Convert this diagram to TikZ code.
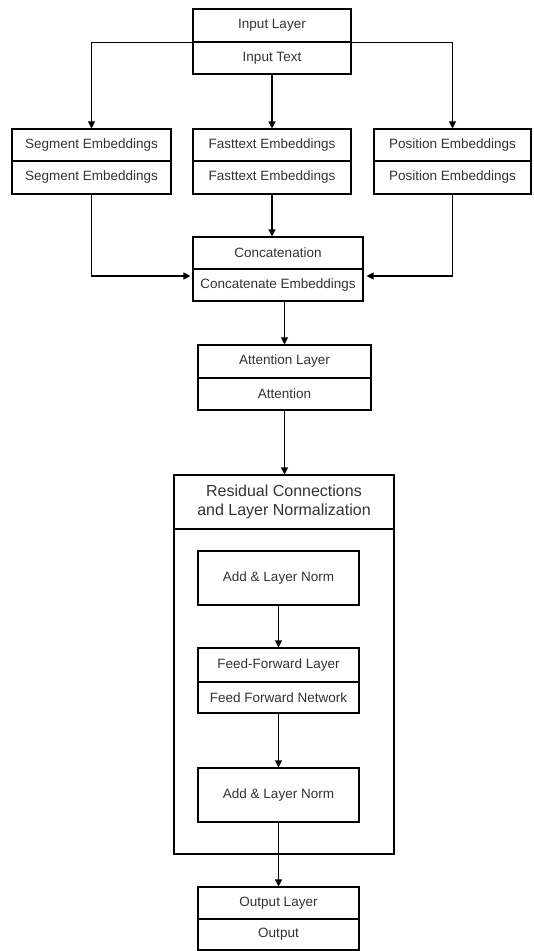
\documentclass[tikz,border=0pt]{standalone}
\usepackage{fontspec}
\setmainfont{Liberation Sans}
\usetikzlibrary{arrows.meta,calc}
\definecolor{txt}{HTML}{333333}
\begin{document}
\begin{tikzpicture}[x=1pt,y=-1pt,
 cell/.style={draw, line width=1.1pt, inner sep=0pt, font=\fontsize{13.5}{16}\selectfont, text=txt, fill=white},
 arr/.style={line width=1.1pt, -{Triangle[length=7pt,width=7pt]}}
]
\useasboundingbox (0,0) rectangle (534,951);
% input
\node[cell, minimum width=158pt, minimum height=33pt] (inT) at (272,25.5) {Input Layer};
\node[cell, minimum width=158pt, minimum height=32pt] (inB) at (272,58) {Input Text};
% embeddings
\node[cell, minimum width=159pt, minimum height=32pt] (segT) at (91.5,145) {Segment Embeddings};
\node[cell, minimum width=159pt, minimum height=33pt] (segB) at (91.5,177.5) {Segment Embeddings};
\node[cell, minimum width=158pt, minimum height=32pt] (fastT) at (272,145) {Fasttext Embeddings};
\node[cell, minimum width=158pt, minimum height=33pt] (fastB) at (272,177.5) {Fasttext Embeddings};
\node[cell, minimum width=157pt, minimum height=32pt] (posT) at (452.5,145) {Position Embeddings};
\node[cell, minimum width=157pt, minimum height=33pt] (posB) at (452.5,177.5) {Position Embeddings};
% concat
\node[cell, minimum width=170pt, minimum height=32pt] (catT) at (278,253) {Concatenation};
\node[cell, minimum width=170pt, minimum height=32pt] (catB) at (278,285) {Concatenate Embeddings};
% attention
\node[cell, minimum width=173pt, minimum height=33pt] (attT) at (284.5,361.5) {Attention Layer};
\node[cell, minimum width=173pt, minimum height=32pt] (attB) at (284.5,394) {Attention};
% residual container
\node[cell, minimum width=220pt, minimum height=379pt] (res) at (284,664.5) {};
\node[cell, minimum width=220pt, minimum height=54pt, align=center, font=\fontsize{16}{18.5}\selectfont] (resT) at (284,502) {Residual Connections\\and Layer Normalization};
\node[cell, minimum width=161pt, minimum height=54pt] (add1) at (278.5,578) {Add \& Layer Norm};
\node[cell, minimum width=161pt, minimum height=34pt] (ffT) at (278.5,665) {Feed-Forward Layer};
\node[cell, minimum width=161pt, minimum height=31pt] (ffB) at (278.5,697.5) {Feed Forward Network};
\node[cell, minimum width=161pt, minimum height=54pt] (add2) at (278.5,795) {Add \& Layer Norm};
% output
\node[cell, minimum width=161pt, minimum height=32pt] (outT) at (278.5,903) {Output Layer};
\node[cell, minimum width=161pt, minimum height=31pt] (outB) at (278.5,934.5) {Output};
% connectors
\draw[arr] (inT.south) -| (segT.north);
\draw[arr] (inT.south) -| (posT.north);
\draw[arr] (inB.south) -- (fastT.north);
\draw[arr] (fastB.south) -- (fastB.south |- catT.north);
\draw[arr, shorten >=2pt] (segB.south) |- ([yshift=9pt]catB.west);
\draw[arr, shorten >=3pt] (posB.south) |- ([yshift=9pt]catB.east);
\draw[arr] (attT.north |- catB.south) -- (attT.north);
\draw[arr] (attB.south) -- (attB.south |- resT.north);
\draw[arr] (add1.south) -- (ffT.north);
\draw[arr] (ffB.south) -- (add2.north);
\draw[arr] (add2.south) -- (outT.north);
\end{tikzpicture}
\end{document}
